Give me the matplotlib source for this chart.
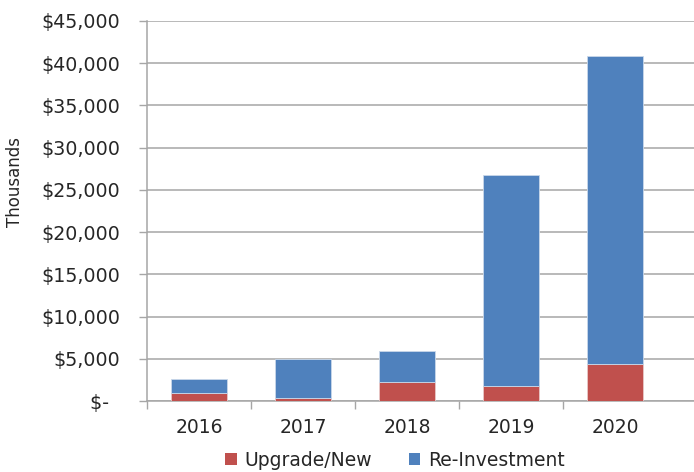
import matplotlib
matplotlib.use("Agg")
import matplotlib.pyplot as plt
from matplotlib.patches import Patch
import numpy as np

years = ["2016", "2017", "2018", "2019", "2020"]
upgrade_new = [1000, 400, 2250, 1800, 4400]
re_investment = [1570, 4570, 3700, 25000, 36500]
y_ticks = [0, 5000, 10000, 15000, 20000, 25000, 30000, 35000, 40000, 45000]

red = "#C0504D"
blue = "#4F81BD"
grid_c = "#A6A6A6"
text_c = "#262626"

plt.rcParams['font.family'] = ['DejaVu Sans']

fig = plt.figure(figsize=(6.94, 4.72), dpi=100)
ax = fig.add_axes([147/694, 1-401/472, 1-147/694, (401-21)/472])

x = np.arange(len(years))
ax.bar(x, upgrade_new, width=0.53, color=red, edgecolor="#E8C8C7", linewidth=0.6, zorder=3)
ax.bar(x, re_investment, width=0.53, bottom=upgrade_new, color=blue, edgecolor="#C9D8EA", linewidth=0.6, zorder=3)

ax.set_ylim(0, 45000)
ax.set_xlim(-0.5, -0.5 + 547/104)
ax.set_yticks(y_ticks)
ax.set_yticklabels(["$-  " if v == 0 else "${:,}".format(v) for v in y_ticks])
ax.yaxis.grid(True, color=grid_c, linewidth=1.1, zorder=0)

ax.set_xticks(x)
ax.set_xticklabels(years)
ax.set_xticks(np.arange(-0.5, 4.0, 1.0), minor=True)
ax.tick_params(axis='x', which='major', length=0, pad=12, labelsize=13.5, labelcolor=text_c)
ax.tick_params(axis='x', which='minor', length=6, width=1, color=grid_c, direction='out')
ax.tick_params(axis='y', length=6, width=1, color=grid_c, direction='out', pad=13, labelsize=13.7, labelcolor=text_c)

for s in ["top", "right"]:
    ax.spines[s].set_visible(False)
for s in ["left", "bottom"]:
    ax.spines[s].set_color(grid_c)
    ax.spines[s].set_linewidth(1.1)

fig.text(15/694, 1-182/472, "Thousands", rotation=90, ha='center', va='center', fontsize=12, color=text_c)

handles = [Patch(facecolor=red, edgecolor='none', label="Upgrade/New"),
           Patch(facecolor=blue, edgecolor='none', label="Re-Investment")]
fig.legend(handles=handles, loc='center', bbox_to_anchor=(395/694, 1-460/472), ncol=2,
           frameon=False, fontsize=13.5, handlelength=0.6, handleheight=0.6,
           handletextpad=0.4, columnspacing=2.0, labelcolor=text_c)

fig.savefig("out.png", dpi=100)
